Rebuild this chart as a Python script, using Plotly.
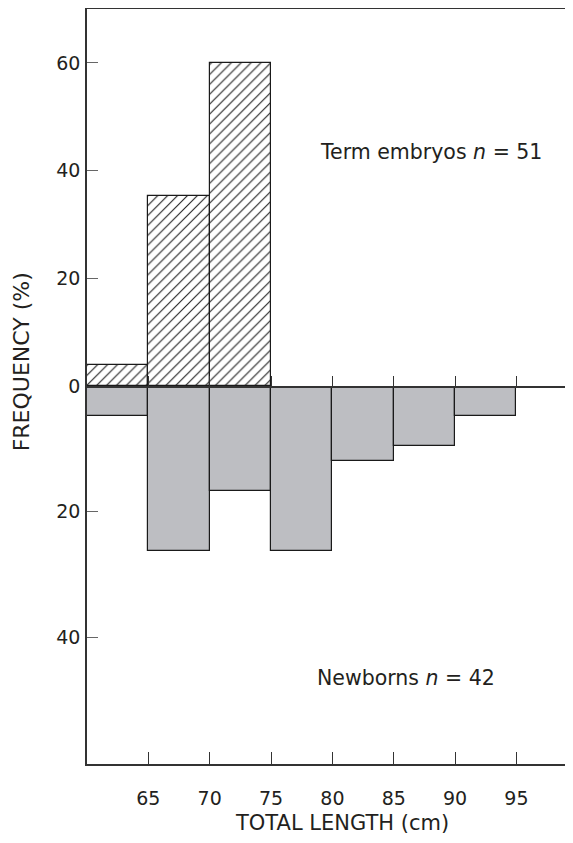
import plotly.graph_objects as go

# Data
bin_centers = [62.5, 67.5, 72.5, 77.5, 82.5, 87.5, 92.5]
embryo_bins = [62.5, 67.5, 72.5]
embryo_pct = [3.9, 35.3, 60.0]          # Term embryos n = 51
newborn_pct = [4.8, 26.2, 16.7, 26.2, 11.9, 9.5, 4.8]  # Newborns n = 42
x_ticks = [65, 70, 75, 80, 85, 90, 95]
up_ticks = [0, 20, 40, 60]
down_ticks = [20, 40, 60]
down_ticktext = ["20", "40", ""]

FONT = "DejaVu Sans"
TXT = "#231f20"
LINE = "#333333"

fig = go.Figure()

fig.add_trace(go.Bar(
    x=embryo_bins, y=embryo_pct, width=5, xaxis="x2", yaxis="y",
    marker=dict(color="white", line=dict(color="#1a1a1a", width=1.2),
                pattern=dict(shape="/", size=7, solidity=0.16,
                             fgcolor="#222222", bgcolor="white")),
    showlegend=False, hoverinfo="skip"))

fig.add_trace(go.Bar(
    x=bin_centers, y=newborn_pct, width=5, xaxis="x", yaxis="y2",
    marker=dict(color="#bdbec2", line=dict(color="#1a1a1a", width=1.2)),
    showlegend=False, hoverinfo="skip"))

xr = [60, 100.26]
fig.update_layout(
    template="none",
    width=573, height=843,
    margin=dict(l=79, r=0, t=1, b=87, pad=0),
    paper_bgcolor="white", plot_bgcolor="white",
    font=dict(family=FONT, size=19, color=TXT),
    bargap=0,
    xaxis=dict(range=xr, anchor="y2", domain=[0, 1], automargin=False,
               tickvals=x_ticks, ticks="inside", ticklen=12, tickwidth=1.2,
               tickcolor=LINE, showline=True, linecolor=LINE, linewidth=1.5,
               showgrid=False, zeroline=False, ticklabelstandoff=16,
               tickfont=dict(family=FONT, size=19, color=TXT)),
    xaxis2=dict(range=xr, anchor="y", overlaying="x", side="bottom", automargin=False,
                tickvals=x_ticks, ticks="inside", ticklen=10, tickwidth=1.2,
                tickcolor=LINE, showticklabels=False, showline=True, mirror=True,
                linecolor=LINE, linewidth=1.5,
                showgrid=False, zeroline=False),
    yaxis=dict(range=[0, 70.0], domain=[0.5007, 1], anchor="x2", automargin=False,
               tickvals=up_ticks, ticktext=[str(v) for v in up_ticks],
               ticks="inside", ticklen=11, tickwidth=1.2, tickcolor="#666666",
               showline=True, linecolor=LINE, linewidth=1.5,
               showgrid=False, zeroline=False, ticklabelstandoff=1,
               tickfont=dict(family=FONT, size=19, color=TXT)),
    yaxis2=dict(range=[60.1, 0], domain=[0, 0.5007], anchor="x", automargin=False,
                tickvals=down_ticks, ticktext=down_ticktext,
                ticks="inside", ticklen=11, tickwidth=1.2, tickcolor="#666666",
                showline=True, linecolor=LINE, linewidth=1.5,
                showgrid=False, zeroline=False, ticklabelstandoff=1,
                tickfont=dict(family=FONT, size=19, color=TXT)),
    annotations=[
        dict(text="Term embryos <i>n</i> = 51", x=88.0, y=43.5, xref="x", yref="y",
             showarrow=False, xanchor="center", yanchor="middle",
             font=dict(family=FONT, size=20.5, color=TXT)),
        dict(text="Newborns <i>n</i> = 42", x=86.0, y=46.5, xref="x", yref="y2",
             showarrow=False, xanchor="center", yanchor="middle",
             font=dict(family=FONT, size=20.5, color=TXT)),
        dict(text="TOTAL LENGTH (cm)", x=80.8, y=-0.078, xref="x", yref="paper",
             showarrow=False, xanchor="center", yanchor="middle",
             font=dict(family=FONT, size=21, color=TXT)),
        dict(text="FREQUENCY (%)", x=-0.1336, y=0.532, xref="paper", yref="paper",
             showarrow=False, xanchor="center", yanchor="middle", textangle=-90,
             font=dict(family=FONT, size=22, color=TXT)),
    ],
)

fig.write_html("out.html")
